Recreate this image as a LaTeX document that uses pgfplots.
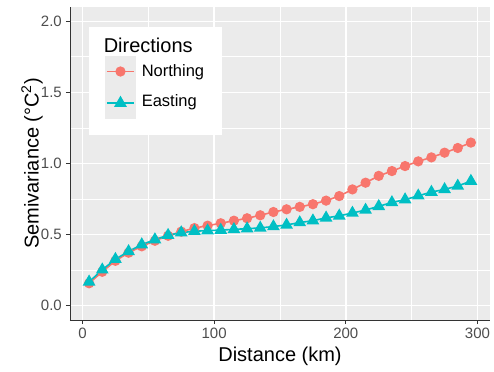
\documentclass[border=0pt]{standalone}
\usepackage{fontspec}
\setmainfont{Liberation Sans}
\usepackage{pgfplots}
\pgfplotsset{compat=1.18}
\definecolor{panelbg}{HTML}{EBEBEB}
\definecolor{nred}{HTML}{F8766D}
\definecolor{eteal}{HTML}{00BFC4}
\definecolor{ticktxt}{HTML}{4D4D4D}
\definecolor{tickcol}{HTML}{333333}
\pgfplotstableread{
x n e
5 0.158 0.168
15 0.239 0.253
25 0.316 0.327
35 0.373 0.382
45 0.418 0.430
55 0.457 0.465
65 0.492 0.496
75 0.521 0.514
85 0.546 0.524
95 0.563 0.528
105 0.580 0.532
115 0.598 0.537
125 0.615 0.542
135 0.636 0.547
145 0.659 0.557
155 0.678 0.568
165 0.695 0.585
175 0.714 0.598
185 0.739 0.618
195 0.771 0.632
205 0.818 0.652
215 0.865 0.673
225 0.913 0.699
235 0.947 0.726
245 0.982 0.746
255 1.015 0.773
265 1.043 0.799
275 1.076 0.818
285 1.109 0.842
295 1.147 0.876
}\datatable
\begin{document}
\begin{tikzpicture}
\useasboundingbox (-70bp,-52bp) rectangle (424bp,320bp);
\begin{axis}[
  at={(0,0)}, anchor=south west,
  scale only axis, width=420bp, height=313bp,
  xmin=-9.5, xmax=309.5, ymin=-0.1, ymax=2.1,
  axis background/.style={fill=panelbg},
  axis lines*=left,
  axis line style={-, tickcol, line width=0.9bp},
  xtick={0,100,200,300}, ytick={0,0.5,1,1.5,2},
  minor xtick={50,150,250}, minor ytick={0.25,0.75,1.25,1.75},
  minor tick length=0pt,
  tick align=outside, major tick length=4bp,
  major tick style={tickcol, line width=0.9bp},
  grid=both,
  major grid style={white, line width=1.4bp},
  minor grid style={white, line width=0.7bp},
  /pgf/number format/assume math mode=true,
  yticklabel={\pgfmathprintnumber[fixed,fixed zerofill,precision=1]{\tick}},
  xticklabel style={font=\fontsize{15bp}{17bp}\selectfont, text=ticktxt, inner sep=0pt, yshift=-4bp},
  yticklabel style={font=\fontsize{15bp}{17bp}\selectfont, text=ticktxt, inner sep=0pt, xshift=-4bp},
  every axis x label/.style={at={(axis description cs:0.5,-0.115)}, anchor=center},
  every axis y label/.style={at={(axis description cs:-0.0905,0.5)}, anchor=center, rotate=90},
  label style={font=\fontsize{20bp}{22bp}\selectfont},
  xlabel={Distance (km)},
  ylabel={Semivariance (°C\textsuperscript{2})},
  legend style={at={(0.0452,0.936)}, anchor=north west, draw=none, fill=white,
    font=\fontsize{16.5bp}{19bp}\selectfont, inner xsep=16bp, inner ysep=6bp,
    row sep=0bp, column sep=4bp},
  legend cell align=left,
  legend image code/.code={
    \fill[panelbg] (0bp,-15bp) rectangle (29bp,15bp);
    \draw[#1, mark=none] (1bp,0bp) -- (28bp,0bp);
    \draw[#1, only marks] plot coordinates {(14.5bp,0bp)};
  },
]
\addlegendimage{empty legend}
\addlegendentry{\hspace{-38bp}\fontsize{20bp}{24bp}\selectfont Directions\rule[-30.1bp]{0pt}{47.1bp}}
\addplot[nred, line width=1.6bp, mark=*, mark size=4.3bp, mark options={solid}] table[x=x,y=n]{\datatable};
\addlegendentry{\raisebox{4.8bp}{Northing}\rule[-9bp]{0pt}{30bp}}
\addplot[eteal, line width=1.6bp, mark=triangle*, mark size=5.8bp, mark options={solid}] table[x=x,y=e]{\datatable};
\addlegendentry{\raisebox{4.8bp}{Easting}\rule[-9bp]{0pt}{27.6bp}}
\addlegendimage{empty legend}
\addlegendentry{\rule{0pt}{5bp}}
\end{axis}
\end{tikzpicture}
\end{document}
